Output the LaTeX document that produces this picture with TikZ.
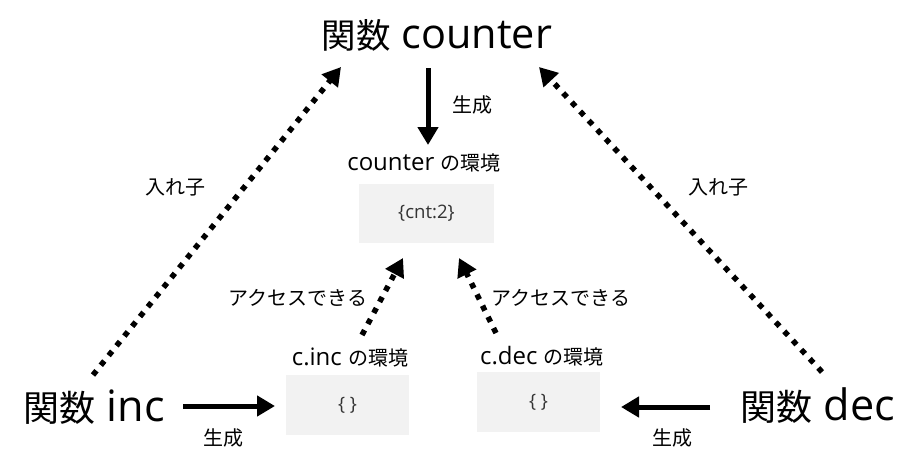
\documentclass[tikz,border=0pt]{standalone}
\usepackage{fontspec}
\setmainfont{Open Sans}[Scale=1.2]
\newfontfamily\jp{Noto Sans CJK JP}
\usetikzlibrary{arrows.meta}
\definecolor{boxgray}{HTML}{F2F2F2}
\definecolor{boxtext}{HTML}{333333}
\begin{document}
\begin{tikzpicture}[x=1pt,y=-1pt,
  big/.style={font=\fontsize{36}{40}\selectfont, inner sep=0pt},
  lbl/.style={font=\fontsize{20}{24}\selectfont, inner sep=0pt},
  envbox/.style={fill=boxgray, minimum width=123pt, minimum height=60pt, inner sep=0pt, font=\fontsize{15.5}{18}\selectfont, text=boxtext},
  gen/.style={line width=5pt, -{Triangle[width=20pt,length=18pt]}},
  nest/.style={line width=5.5pt, dash pattern=on 5.5pt off 7pt, -{Triangle[width=20pt,length=18pt]}}
]
\useasboundingbox (0,0) rectangle (915,469);
\node[big, font=\fontsize{34.5}{40}\selectfont] (counter) at (437,35) {{\jp 関数} counter};
\node[big] (inc) at (94,407) {{\jp 関数} inc};
\node[big] (dec) at (818,406) {{\jp 関数} dec};

\node[envbox, minimum width=135pt, minimum height=59pt] (cenv) at (426.5,213.5) {\{cnt:2\}};
\node[lbl] (cenvl) at (424,163) {counter {\jp の環境}};
\node[envbox] (ienv) at (347.5,405) {\{ \}};
\node[lbl] (ienvl) at (350,357) {c.inc {\jp の環境}};
\node[envbox] (denv) at (538.5,402) {\{ \}};
\node[lbl] (denvl) at (542,356) {c.dec {\jp の環境}};

\coordinate (g1s) at (428,68);
\coordinate (g1e) at (428,145);
\draw[gen] (g1s) -- (g1e);
\node[lbl] (g1l) at (472,105) {\jp 生成};

\coordinate (g2s) at (183,406);
\coordinate (g2e) at (275,406);
\draw[gen] (g2s) -- (g2e);
\node[lbl] (g2l) at (223,438) {\jp 生成};

\coordinate (g3s) at (710,407);
\coordinate (g3e) at (621,407);
\draw[gen] (g3s) -- (g3e);
\node[lbl] (g3l) at (672,438) {\jp 生成};

\coordinate (n1s) at (93,375);
\coordinate (n1e) at (341,67);
\draw[nest] (n1s) -- (n1e);
\node[lbl] (n1l) at (175,187) {\jp 入れ子};

\coordinate (n2s) at (822,372);
\coordinate (n2e) at (539,67);
\draw[nest] (n2s) -- (n2e);
\node[lbl] (n2l) at (718,187) {\jp 入れ子};

\coordinate (a1s) at (362,335);
\coordinate (a1e) at (403,258);
\draw[nest] (a1s) -- (a1e);
\node[lbl] (a1l) at (298,298) {\jp アクセスできる};

\coordinate (a2s) at (496,333);
\coordinate (a2e) at (459,258);
\draw[nest] (a2s) -- (a2e);
\node[lbl] (a2l) at (561,298) {\jp アクセスできる};
\end{tikzpicture}
\end{document}
